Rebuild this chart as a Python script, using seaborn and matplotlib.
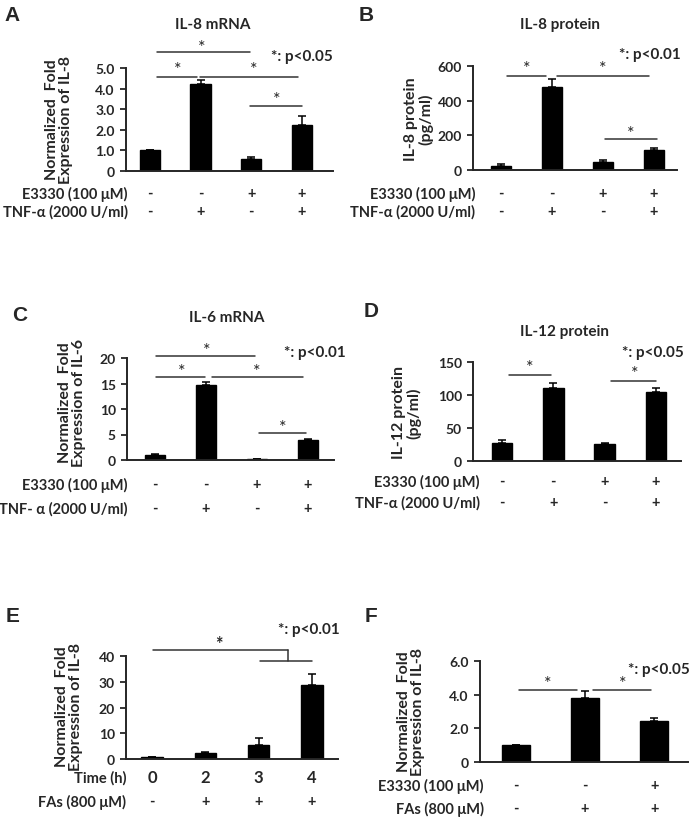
import numpy as np
import pandas as pd
import matplotlib
matplotlib.use("Agg")
import matplotlib.pyplot as plt
import matplotlib.transforms as mtrans
import seaborn as sns

# ---------------- data ----------------
groups4 = ["ctrl", "TNF", "E3330", "E3330+TNF"]
e3330_row = ["-", "-", "+", "+"]
tnf_row = ["-", "+", "-", "+"]

il8_mrna = [1.0, 4.2, 0.6, 2.25]
il8_mrna_err = [0.0, 0.2, 0.07, 0.4]

il8_prot = [25, 480, 45, 118]
il8_prot_err = [12, 45, 12, 8]

il6_mrna = [1.0, 14.8, 0.15, 3.9]
il6_mrna_err = [0.1, 0.4, 0.05, 0.2]

il12_prot = [27, 111, 26, 104]
il12_prot_err = [5, 7, 2, 6]

time_groups = ["0", "2", "3", "4"]
fas_row_e = ["-", "+", "+", "+"]
il8_time = [0.9, 2.3, 5.5, 28.7]
il8_time_err = [0.0, 0.5, 2.8, 4.2]

groups3 = ["ctrl", "FAs", "FAs+E3330"]
e3330_row_f = ["-", "-", "+"]
fas_row_f = ["-", "+", "+"]
il8_fas = [1.0, 3.8, 2.45]
il8_fas_err = [0.0, 0.4, 0.18]

# ---------------- style ----------------
sns.set_style("ticks")
plt.rcParams["font.family"] = ["Lato", "DejaVu Sans"]
plt.rcParams["font.weight"] = "bold"
plt.rcParams["axes.linewidth"] = 1.4

W, H = 694, 820
fig = plt.figure(figsize=(W / 100, H / 100), dpi=100)

FS_TICK = 10
FS_ROW = 10.5
FS_TITLE = 11
FS_P = 11
FS_YL = 11.5
FS_LET = 15
FS_STAR = 13


def fy(py):
    return 1 - py / H


def make_axes(x0, x1, ytop, yzero):
    return fig.add_axes([x0 / W, 1 - yzero / H, (x1 - x0) / W, (yzero - ytop) / H])


def panel(rect, cats, vals, errs, xlim, ymax, yticks, yticklabels):
    ax = make_axes(*rect)
    df = pd.DataFrame({"g": cats, "v": vals})
    sns.barplot(data=df, x="g", y="v", order=cats, color="black", saturation=1,
                width=0.4, ax=ax, errorbar=None)
    for p in ax.patches:
        p.set_edgecolor("black")
    ax.errorbar(np.arange(len(cats)), vals, yerr=[np.zeros(len(errs)), errs],
                fmt="none", ecolor="black", elinewidth=1.1, capsize=3, capthick=1.1)
    ax.set_xlim(*xlim)
    ax.set_ylim(0, ymax)
    ax.set_yticks(yticks)
    ax.set_yticklabels(yticklabels, fontsize=FS_TICK, fontweight="bold")
    ax.set_xticks([])
    ax.set_xlabel("")
    ax.set_ylabel("")
    ax.tick_params(axis="y", direction="out", length=4, width=1.3, pad=4)
    sns.despine(ax=ax)
    ax.patch.set_alpha(0)
    return ax


def rows(ax, items, label_x, fs_sym=FS_ROW):
    tr = mtrans.blended_transform_factory(ax.transData, fig.transFigure)
    for label, syms, py in items:
        fig.text(label_x / W, fy(py), label, ha="right", va="center",
                 fontsize=FS_ROW, fontweight="bold")
        for i, s in enumerate(syms):
            ax.text(i, fy(py), s, transform=tr, ha="center", va="center",
                    fontsize=fs_sym, fontweight="bold")


def sig(ax, lines, stars):
    for x1, x2, y in lines:
        ax.plot([x1, x2], [y, y], color="#333333", lw=1.1, clip_on=False)
    for x, y in stars:
        ax.text(x, y, "*", ha="center", va="center", fontsize=FS_STAR,
                fontweight="normal", clip_on=False)


def ylab(text, cx, cy):
    fig.text(cx / W, fy(cy), text, rotation=90, ha="center", va="center",
             fontsize=FS_YL, fontweight="bold", multialignment="center",
             linespacing=1.05)


def letter(t, x, y):
    fig.text(x / W, fy(y), t, ha="left", va="top", fontsize=FS_LET,
             fontweight="bold", family=["Liberation Sans", "DejaVu Sans"])


def ptext(t, x, y):
    fig.text(x / W, fy(y), t, ha="right", va="center", fontsize=FS_P, fontweight="bold")


def title(t, x, y):
    fig.text(x / W, fy(y), t, ha="center", va="center", fontsize=FS_TITLE, fontweight="bold")


# ---------------- A ----------------
axA = panel((126, 333, 69, 172), groups4, il8_mrna, il8_mrna_err, (-0.475, 3.62),
            5.0, [0, 1, 2, 3, 4, 5], ["0", "1.0", "2.0", "3.0", "4.0", "5.0"])
sig(axA, [(0.14, 1.98, 5.78), (0.14, 0.93, 4.56), (0.99, 2.93, 4.56), (1.98, 3.01, 3.16)],
    [(1.03, 6.0), (0.55, 4.95), (2.05, 4.95), (2.5, 3.5)])
rows(axA, [("E3330 (100 \u03bcM)", e3330_row, 194), ("TNF-\u03b1 (2000 U/ml)", tnf_row, 212)], 128)
ylab("Normalized  Fold\nExpression of IL-8", 59, 120)
title("IL-8 mRNA", 213, 25)
ptext("*: p<0.05", 333, 57)
letter("A", 4, 6)

# ---------------- B ----------------
axB = panel((473, 677, 67, 171), groups4, il8_prot, il8_prot_err, (-0.55, 3.45),
            600, [0, 200, 400, 600], ["0", "200", "400", "600"])
sig(axB, [(0.12, 0.88, 542), (1.1, 2.9, 542), (2.04, 3.06, 179)],
    [(0.5, 588), (2.0, 588), (2.55, 215)])
rows(axB, [("E3330 (100 \u03bcM)", e3330_row, 194), ("TNF-\u03b1 (2000 U/ml)", tnf_row, 212)], 475)
ylab("IL-8 protein\n(pg/ml)", 419, 119)
title("IL-8 protein", 560, 25)
ptext("*: p<0.01", 681, 55)
letter("B", 359, 6)

# ---------------- C ----------------
axC = panel((127, 334, 359, 461), groups4, il6_mrna, il6_mrna_err, (-0.55, 3.51),
            20, [0, 5, 10, 15, 20], ["0", "5", "10", "15", "20"])
sig(axC, [(0.02, 1.96, 20.4), (0.02, 0.98, 16.3), (1.12, 2.9, 16.3), (2.04, 2.96, 5.3)],
    [(1.02, 21.5), (0.53, 17.4), (2.0, 17.4), (2.5, 6.4)])
rows(axC, [("E3330 (100 \u03bcM)", e3330_row, 485), ("TNF- \u03b1 (2000 U/ml)", tnf_row, 509)], 128)
ylab("Normalized  Fold\nExpression of IL-6", 72, 403)
title("IL-6 mRNA", 227, 318)
ptext("*: p<0.01", 346, 353)
letter("C", 12, 306)

# ---------------- D ----------------
axD = panel((473, 681, 363, 462), groups4, il12_prot, il12_prot_err, (-0.565, 3.49),
            150, [0, 50, 100, 150], ["0", "50", "100", "150"])
sig(axD, [(0.14, 0.96, 130), (2.12, 3.0, 121)], [(0.55, 142), (2.59, 133)])
rows(axD, [("E3330 (100 \u03bcM)", e3330_row, 482), ("TNF-\u03b1 (2000 U/ml)", tnf_row, 503)], 480)
ylab("IL-12 protein\n(pg/ml)", 407, 413)
title("IL-12 protein", 565, 332)
ptext("*: p<0.05", 684, 353)
letter("D", 364, 302)

# ---------------- E ----------------
axE = panel((126, 338, 657, 760), time_groups, il8_time, il8_time_err, (-0.49, 3.49),
            40, [0, 10, 20, 30, 40], ["0", "10", "20", "30", "40"])
axE.plot([0.02, 2.55], [42.3, 42.3], color="#333333", lw=1.1, clip_on=False)
axE.plot([2.55, 2.55], [42.3, 38.1], color="#333333", lw=1.1, clip_on=False)
axE.plot([2.03, 3.0], [38.1, 38.1], color="#333333", lw=1.1, clip_on=False)
axE.text(1.26, 45.0, "*", ha="center", va="center", fontsize=FS_STAR, clip_on=False)
rows(axE, [("Time (h)", time_groups, 778)], 126, fs_sym=12)
rows(axE, [("FAs (800 \u03bcM)", fas_row_e, 802)], 126)
ylab("Normalized  Fold\nExpression of IL-8", 69, 707)
ptext("*: p<0.01", 340, 630)
letter("E", 6, 607)

# ---------------- F ----------------
axF = panel((480, 688, 662, 763), groups3, il8_fas, il8_fas_err, (-0.52, 2.49),
            6.0, [0, 2, 4, 6], ["0", "2.0", "4.0", "6.0"])
sig(axF, [(0.04, 0.88, 4.28), (1.12, 1.96, 4.28)], [(0.46, 4.7), (1.54, 4.7)])
rows(axF, [("E3330 (100 \u03bcM)", e3330_row_f, 786), ("FAs (800 \u03bcM)", fas_row_f, 809)], 484)
ylab("Normalized  Fold\nExpression of IL-8", 411, 712)
ptext("*: p<0.05", 690, 670)
letter("F", 365, 607)

fig.savefig("out.png", dpi=100)
